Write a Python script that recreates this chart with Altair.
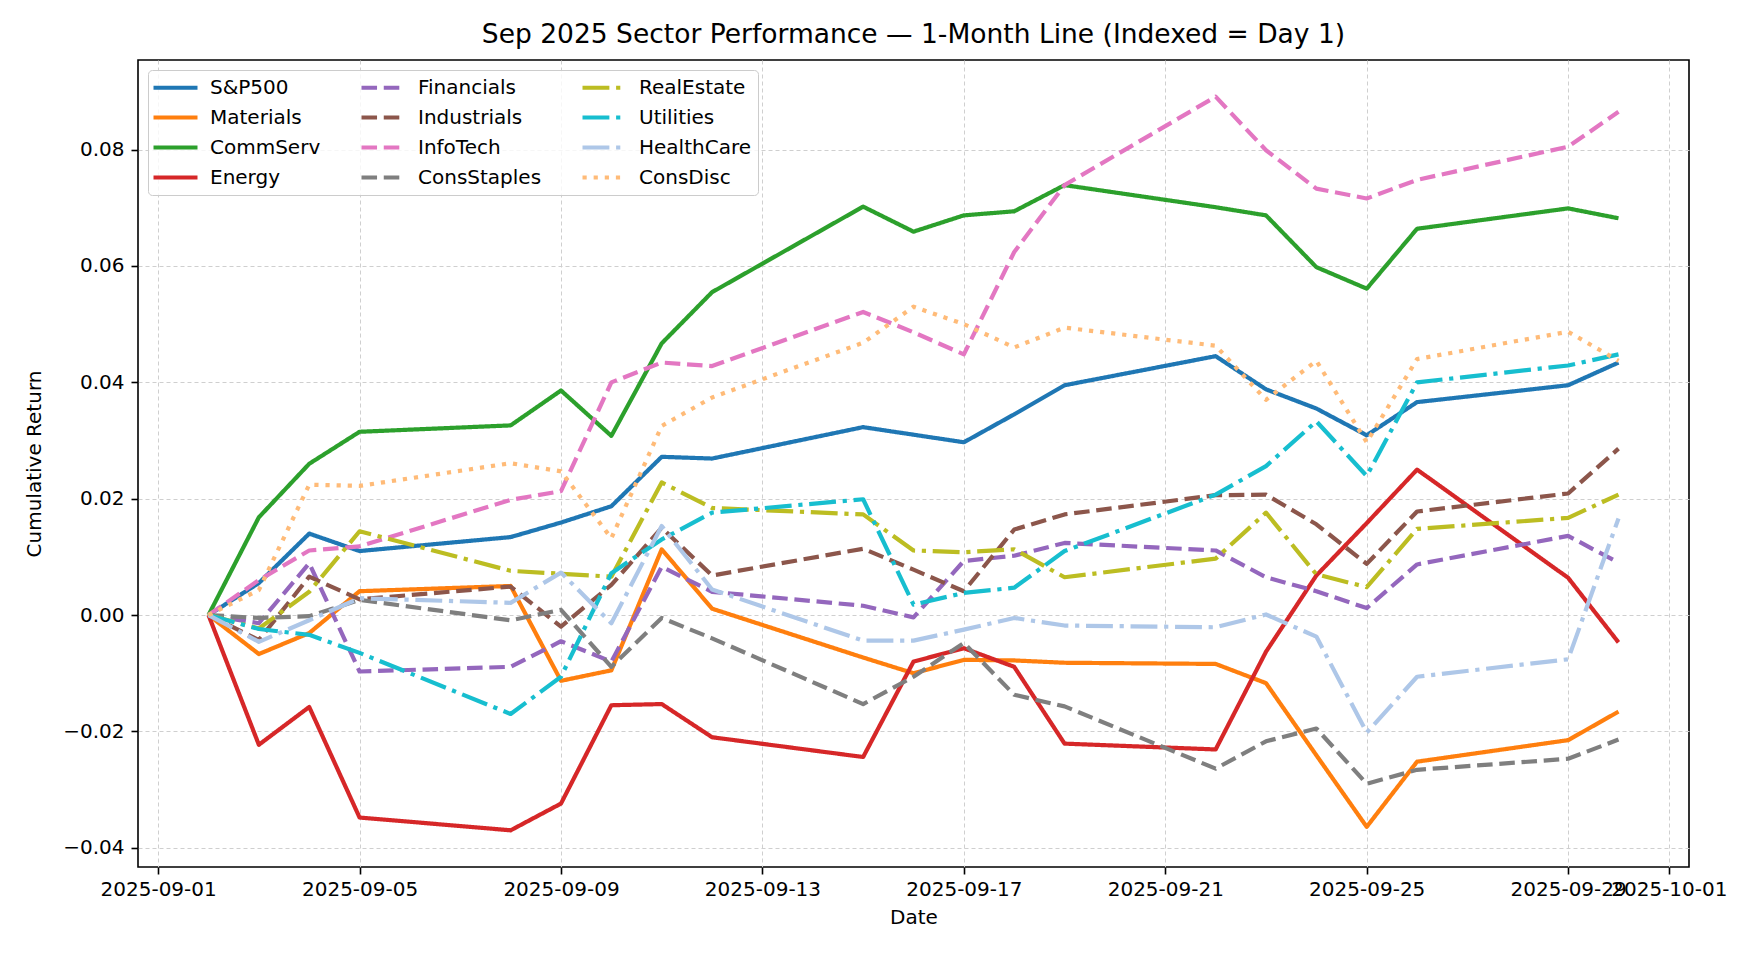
import altair as alt
import pandas as pd

# ---------------- data ----------------
dates = ["2025-09-02", "2025-09-03", "2025-09-04", "2025-09-05", "2025-09-08",
         "2025-09-09", "2025-09-10", "2025-09-11", "2025-09-12", "2025-09-15",
         "2025-09-16", "2025-09-17", "2025-09-18", "2025-09-19", "2025-09-22",
         "2025-09-23", "2025-09-24", "2025-09-25", "2025-09-26", "2025-09-29",
         "2025-09-30"]

sp500 = [0, 0.0055, 0.0140, 0.0110, 0.0134, 0.0159, 0.0187, 0.0272, 0.0269, 0.0323, 0.0310,
         0.0297, 0.0345, 0.0395, 0.0445, 0.0388, 0.0355, 0.0309, 0.0366, 0.0395, 0.0434]
materials = [0, -0.0067, -0.0031, 0.0041, 0.0050, -0.0113, -0.0095, 0.0113, 0.0011, -0.0073, -0.0100,
             -0.0077, -0.0078, -0.0082, -0.0084, -0.0117, -0.0241, -0.0364, -0.0252, -0.0215, -0.0166]
commserv = [0, 0.0168, 0.0260, 0.0315, 0.0326, 0.0386, 0.0308, 0.0467, 0.0555, 0.0702, 0.0659,
            0.0687, 0.0694, 0.0739, 0.0701, 0.0687, 0.0598, 0.0561, 0.0664, 0.0699, 0.0682]
energy = [0, -0.0223, -0.0158, -0.0348, -0.0370, -0.0324, -0.0155, -0.0153, -0.0210, -0.0244, -0.0080,
          -0.0057, -0.0089, -0.0221, -0.0231, -0.0063, 0.0068, 0.0158, 0.0250, 0.0064, -0.0047]
financials = [0, -0.0014, 0.0089, -0.0097, -0.0089, -0.0045, -0.0080, 0.0083, 0.0040, 0.0016, -0.0004,
              0.0093, 0.0102, 0.0124, 0.0111, 0.0065, 0.0041, 0.0012, 0.0087, 0.0136, 0.0090]
industrials = [0, -0.0043, 0.0066, 0.0027, 0.0049, -0.0020, 0.0052, 0.0150, 0.0068, 0.0114, 0.0078,
               0.0041, 0.0147, 0.0173, 0.0206, 0.0207, 0.0156, 0.0088, 0.0178, 0.0209, 0.0286]
infotech = [0, 0.0060, 0.0111, 0.0118, 0.0198, 0.0213, 0.0400, 0.0434, 0.0428, 0.0521, 0.0486,
            0.0448, 0.0624, 0.0739, 0.0891, 0.0799, 0.0733, 0.0716, 0.0748, 0.0805, 0.0865]
consstaples = [0, -0.0005, -0.0002, 0.0026, -0.0009, 0.0009, -0.0089, -0.0005, -0.0040, -0.0153, -0.0106,
               -0.0048, -0.0137, -0.0157, -0.0264, -0.0217, -0.0195, -0.0290, -0.0266, -0.0247, -0.0214]
realestate = [0, -0.0023, 0.0040, 0.0144, 0.0076, 0.0071, 0.0066, 0.0228, 0.0184, 0.0173, 0.0111,
              0.0108, 0.0113, 0.0065, 0.0097, 0.0176, 0.0070, 0.0048, 0.0148, 0.0167, 0.0207]
utilities = [0, -0.0024, -0.0034, -0.0065, -0.0170, -0.0106, 0.0072, 0.0130, 0.0176, 0.0199, 0.0018,
             0.0038, 0.0047, 0.0110, 0.0207, 0.0256, 0.0333, 0.0239, 0.0400, 0.0429, 0.0448]
healthcare = [0, -0.0046, -0.0009, 0.0029, 0.0021, 0.0073, -0.0014, 0.0153, 0.0044, -0.0044, -0.0044,
              -0.0025, -0.0005, -0.0018, -0.0021, 0.0001, -0.0037, -0.0202, -0.0106, -0.0076, 0.0166]
consdisc = [0, 0.0043, 0.0224, 0.0222, 0.0261, 0.0247, 0.0132, 0.0325, 0.0374, 0.0468, 0.0530,
            0.0500, 0.0460, 0.0494, 0.0463, 0.0370, 0.0437, 0.0297, 0.0440, 0.0487, 0.0437]

series_names = ["S&P500", "Materials", "CommServ", "Energy",
                "Financials", "Industrials", "InfoTech", "ConsStaples",
                "RealEstate", "Utilities", "HealthCare", "ConsDisc"]
series_values = [sp500, materials, commserv, energy,
                 financials, industrials, infotech, consstaples,
                 realestate, utilities, healthcare, consdisc]
series_colors = ["#1f77b4", "#ff7f0e", "#2ca02c", "#d62728",
                 "#9467bd", "#8c564b", "#e377c2", "#7f7f7f",
                 "#bcbd22", "#17becf", "#aec7e8", "#ffbb78"]
series_styles = ["solid", "solid", "solid", "solid",
                 "dashed", "dashed", "dashed", "dashed",
                 "dashdot", "dashdot", "dashdot", "dotted"]

y_ticks = [-0.04, -0.02, 0.00, 0.02, 0.04, 0.06, 0.08]
x_tick_days = [(2025, 9, 1), (2025, 9, 5), (2025, 9, 9), (2025, 9, 13), (2025, 9, 17),
               (2025, 9, 21), (2025, 9, 25), (2025, 9, 29), (2025, 10, 1)]

TITLE = "Sep 2025 Sector Performance \u2014 1-Month Line (Indexed = Day 1)"

# ---------------- styling ----------------
LW = 4.2
dash_map = {
    "solid": [1, 0],
    "dashed": [3.7 * LW, 1.6 * LW],
    "dashdot": [6.4 * LW, 1.6 * LW, 1.0 * LW, 1.6 * LW],
    "dotted": [1.0 * LW, 1.65 * LW],
}

rows = []
for name, vals in zip(series_names, series_values):
    for d, v in zip(dates, vals):
        rows.append({"date": d, "sector": name, "ret": v})
df = pd.DataFrame(rows)

color_range = series_colors
dash_range = [dash_map[s] for s in series_styles]

# x domain with matplotlib-like 5% margin
d0 = pd.Timestamp(dates[0])
d1 = pd.Timestamp(dates[-1])
span = d1 - d0
x_lo = d0 - span * 0.05
x_hi = d1 + span * 0.05


def to_dt(ts):
    return alt.DateTime(year=ts.year, month=ts.month, date=ts.day,
                        hours=ts.hour, minutes=ts.minute, utc=True)


all_vals = [v for s in series_values for v in s]
y_lo = min(all_vals)
y_hi = max(all_vals)
y_pad = (y_hi - y_lo) * 0.05

FONT = "DejaVu Sans"

# legend line symbol: short box height (size 256 -> scale 8) but 44 px long
SYM = "M-1.5,0H4.0"

chart = alt.Chart(df).mark_line(strokeWidth=LW, strokeCap="butt", strokeJoin="round").encode(
    x=alt.X("date:T",
            scale=alt.Scale(type="utc", domain=[to_dt(x_lo), to_dt(x_hi)], nice=False),
            axis=alt.Axis(values=[alt.DateTime(year=y, month=m, date=d, utc=True) for (y, m, d) in x_tick_days],
                          labelExpr="utcFormat(datum.value, '%Y-%m-%d')", title="Date",
                          labelPadding=5, titlePadding=8, labelAngle=0,
                          labelOverlap=False, labelFlush=False)),
    y=alt.Y("ret:Q",
            scale=alt.Scale(domain=[y_lo - y_pad, y_hi + y_pad], nice=False, zero=False),
            axis=alt.Axis(values=y_ticks, format=".2f", title="Cumulative Return",
                          labelPadding=7, titlePadding=18)),
    color=alt.Color("sector:N",
                    scale=alt.Scale(domain=series_names, range=color_range),
                    legend=alt.Legend(title=None, orient="none", legendX=10, legendY=10,
                                      columns=3, columnPadding=32, rowPadding=9,
                                      symbolType=SYM, symbolSize=256,
                                      symbolStrokeWidth=LW, labelOffset=34,
                                      labelFontSize=20, labelFont=FONT, labelColor="black",
                                      padding=7, strokeColor="#cccccc", fillColor="rgba(255,255,255,0.8)",
                                      cornerRadius=4, gridAlign="each", labelLimit=400)),
    strokeDash=alt.StrokeDash("sector:N",
                              scale=alt.Scale(domain=series_names, range=dash_range),
                              legend=alt.Legend(title=None)),
    detail="sector:N",
).properties(
    width=1551,
    height=807,
    title=alt.TitleParams(TITLE, fontSize=26.5, font=FONT, fontWeight="normal",
                          color="black", anchor="middle", offset=12),
    autosize=alt.AutoSizeParams(type="none"),
    padding={"left": 130, "top": 52, "right": 63, "bottom": 85},
    background="white",
).configure_view(
    stroke="black", strokeWidth=1.6
).configure_axis(
    domain=False,
    grid=True, gridColor="#cfcfcf", gridDash=[4, 3], gridWidth=1,
    ticks=True, tickColor="black", tickSize=7, tickWidth=1.6,
    labelFont=FONT, labelFontSize=20, labelColor="black",
    titleFont=FONT, titleFontSize=20, titleColor="black", titleFontWeight="normal",
)

chart.save("out.html", embed_options={"renderer": "svg", "actions": False})
